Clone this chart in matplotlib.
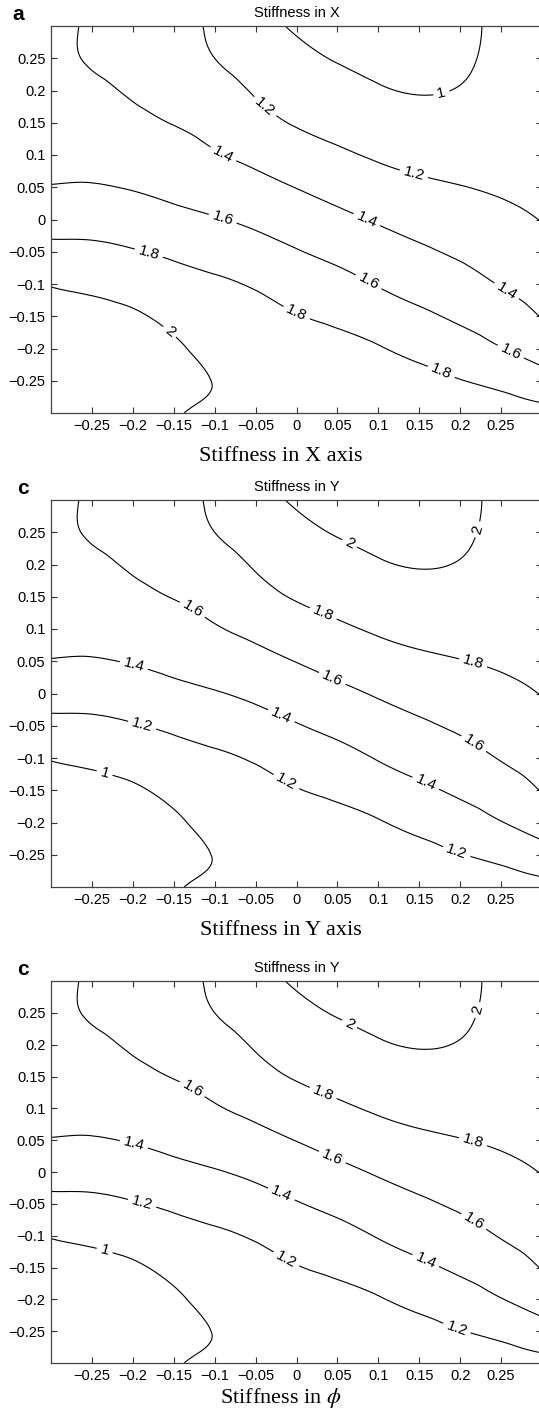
import numpy as np
import matplotlib.pyplot as plt
import matplotlib.tri as mtri

plt.rcParams['font.family'] = ['Liberation Sans', 'DejaVu Sans']
plt.rcParams['mathtext.fontset'] = 'stix'

# Grid of the stiffness maps (x and y offsets)
grid_x = [-0.3, -0.25, -0.2, -0.15, -0.1, -0.05, 0.0, 0.05, 0.1, 0.15, 0.2, 0.25, 0.3]
grid_y = [-0.3, -0.25, -0.2, -0.15, -0.1, -0.05, 0.0, 0.05, 0.1, 0.15, 0.2, 0.25, 0.3]

# Stiffness in X, rows go from y=-0.3 up to y=0.3
stiffness_x = [
    [2.15, 2.09, 2.04, 2.006, 1.985, 1.96, 1.945, 1.925, 1.91, 1.90, 1.89, 1.88, 1.86],
    [2.13, 2.10, 2.06, 2.02, 1.998, 1.965, 1.94, 1.91, 1.875, 1.85, 1.805, 1.755, 1.674],
    [2.10, 2.08, 2.05, 2.015, 1.968, 1.94, 1.905, 1.86, 1.811, 1.749, 1.684, 1.606, 1.518],
    [2.06, 2.05, 2.02, 1.96, 1.91, 1.88, 1.81, 1.759, 1.70, 1.634, 1.57, 1.495, 1.391],
    [1.99, 1.96, 1.916, 1.866, 1.83, 1.779, 1.71, 1.657, 1.59, 1.529, 1.469, 1.39, 1.325],
    [1.85, 1.84, 1.81, 1.771, 1.722, 1.671, 1.61, 1.552, 1.487, 1.428, 1.373, 1.317, 1.258],
    [1.725, 1.725, 1.698, 1.652, 1.611, 1.563, 1.503, 1.443, 1.383, 1.33, 1.289, 1.244, 1.195],
    [1.607, 1.611, 1.59, 1.554, 1.512, 1.456, 1.396, 1.335, 1.278, 1.233, 1.205, 1.18, 1.16],
    [1.55, 1.551, 1.519, 1.472, 1.414, 1.354, 1.288, 1.228, 1.179, 1.146, 1.139, 1.13, 1.13],
    [1.50, 1.496, 1.447, 1.394, 1.342, 1.258, 1.187, 1.142, 1.097, 1.065, 1.074, 1.09, 1.11],
    [1.47, 1.435, 1.38, 1.33, 1.27, 1.185, 1.117, 1.063, 1.015, 0.99, 1.009, 1.06, 1.10],
    [1.45, 1.385, 1.34, 1.28, 1.20, 1.124, 1.046, 0.99, 0.955, 0.93, 0.97, 1.04, 1.095],
    [1.44, 1.38, 1.31, 1.25, 1.175, 1.07, 0.98, 0.94, 0.91, 0.89, 0.955, 1.035, 1.10],
]

# Stiffness in Y (same layout)
stiffness_y = [
    [0.85, 0.91, 0.96, 0.994, 1.015, 1.04, 1.055, 1.075, 1.09, 1.10, 1.11, 1.12, 1.14],
    [0.87, 0.90, 0.94, 0.98, 1.002, 1.035, 1.06, 1.09, 1.125, 1.15, 1.195, 1.245, 1.326],
    [0.90, 0.92, 0.95, 0.985, 1.032, 1.06, 1.095, 1.14, 1.189, 1.251, 1.316, 1.394, 1.482],
    [0.94, 0.95, 0.98, 1.04, 1.09, 1.12, 1.19, 1.241, 1.30, 1.366, 1.43, 1.505, 1.609],
    [1.01, 1.04, 1.084, 1.134, 1.17, 1.221, 1.29, 1.343, 1.41, 1.471, 1.531, 1.61, 1.675],
    [1.15, 1.16, 1.19, 1.229, 1.278, 1.329, 1.39, 1.448, 1.513, 1.572, 1.627, 1.683, 1.742],
    [1.275, 1.275, 1.302, 1.348, 1.389, 1.437, 1.497, 1.557, 1.617, 1.67, 1.711, 1.756, 1.805],
    [1.393, 1.389, 1.41, 1.446, 1.488, 1.544, 1.604, 1.665, 1.722, 1.767, 1.795, 1.82, 1.84],
    [1.45, 1.449, 1.481, 1.528, 1.586, 1.646, 1.712, 1.772, 1.821, 1.854, 1.861, 1.87, 1.87],
    [1.50, 1.504, 1.553, 1.606, 1.658, 1.742, 1.813, 1.858, 1.903, 1.935, 1.926, 1.91, 1.89],
    [1.53, 1.565, 1.62, 1.67, 1.73, 1.815, 1.883, 1.937, 1.985, 2.01, 1.991, 1.94, 1.90],
    [1.55, 1.615, 1.66, 1.72, 1.80, 1.876, 1.954, 2.01, 2.045, 2.07, 2.03, 1.96, 1.905],
    [1.56, 1.62, 1.69, 1.75, 1.825, 1.93, 2.02, 2.06, 2.09, 2.11, 2.045, 1.965, 1.90],
]

levels = [1.0, 1.2, 1.4, 1.6, 1.8, 2.0]

ticks = [-0.25, -0.2, -0.15, -0.1, -0.05, 0.0, 0.05, 0.1, 0.15, 0.2, 0.25]
tick_labels = ["\u22120.25", "\u22120.2", "\u22120.15", "\u22120.1", "\u22120.05",
               "0", "0.05", "0.1", "0.15", "0.2", "0.25"]

# where the contour labels sit
labels_x = [(0.177, 0.197), (-0.042, 0.17), (0.143, 0.069),
            (-0.09, 0.1), (0.086, 0.0), (0.256, -0.112),
            (-0.09, 0.002), (0.088, -0.097), (0.261, -0.207),
            (-0.18, -0.05), (0.0, -0.145), (0.177, -0.236),
            (-0.155, -0.174)]
labels_y = [(0.058, 0.215), (0.225, 0.253),
            (0.031, 0.119), (0.214, 0.04),
            (-0.131, 0.122), (0.043, 0.021), (0.218, -0.075),
            (-0.198, 0.047), (-0.019, -0.036), (0.159, -0.136),
            (-0.188, -0.046), (-0.012, -0.136), (0.2, -0.23),
            (-0.234, -0.121)]

W, H = 539, 1411
fig = plt.figure(figsize=(W / 100, H / 100), dpi=100)

panels = [
    dict(letter="a", title="Stiffness in X", xlabel="Stiffness in X axis",
         z=stiffness_x, labels=labels_x, top=26, bottom=413, base=461, lx=12.5),
    dict(letter="c", title="Stiffness in Y", xlabel="Stiffness in Y axis",
         z=stiffness_y, labels=labels_y, top=500, bottom=887, base=935, lx=17.5),
    dict(letter="c", title="Stiffness in Y", xlabel="Stiffness in $\\phi$",
         z=stiffness_y, labels=labels_y, top=981, bottom=1363, base=1403, lx=17.5),
]

gx, gy = np.meshgrid(grid_x, grid_y)
tri = mtri.Triangulation(gx.ravel(), gy.ravel())
refiner = mtri.UniformTriRefiner(tri)

left, right = 51, 542
for p in panels:
    ax = fig.add_axes([left / W, 1 - p["bottom"] / H,
                       (right - left) / W, (p["bottom"] - p["top"]) / H])
    z = np.array(p["z"]).ravel()
    interp = mtri.CubicTriInterpolator(tri, z, kind="min_E")
    tri_f, z_f = refiner.refine_field(z, triinterpolator=interp, subdiv=4)
    cs = ax.tricontour(tri_f, z_f, levels=levels, colors="k", linewidths=0.8)
    ax.clabel(cs, fmt="%g", fontsize=11, inline=True, inline_spacing=4,
              manual=p["labels"])

    ax.set_xlim(-0.3, 0.3)
    ax.set_ylim(-0.3, 0.3)
    ax.set_xticks(ticks)
    ax.set_xticklabels(tick_labels)
    ax.set_yticks(ticks)
    ax.set_yticklabels(tick_labels)
    ax.tick_params(direction="in", top=True, right=True, length=4, width=0.8,
                   labelsize=10.5, pad=4, colors="#333333", labelcolor="k")
    for s in ax.spines.values():
        s.set_color("#444444")
        s.set_linewidth(0.9)

    ax.set_title(p["title"], fontsize=10.5, pad=6.5)
    fig.text(p["lx"] / W, 1 - (p["top"] - 6) / H, p["letter"], fontsize=15,
             fontweight="bold", va="baseline")
    fig.text(281 / W, 1 - p["base"] / H, p["xlabel"], family="Liberation Serif",
             fontsize=16, ha="center", va="baseline")

fig.savefig("out.png", dpi=100)
